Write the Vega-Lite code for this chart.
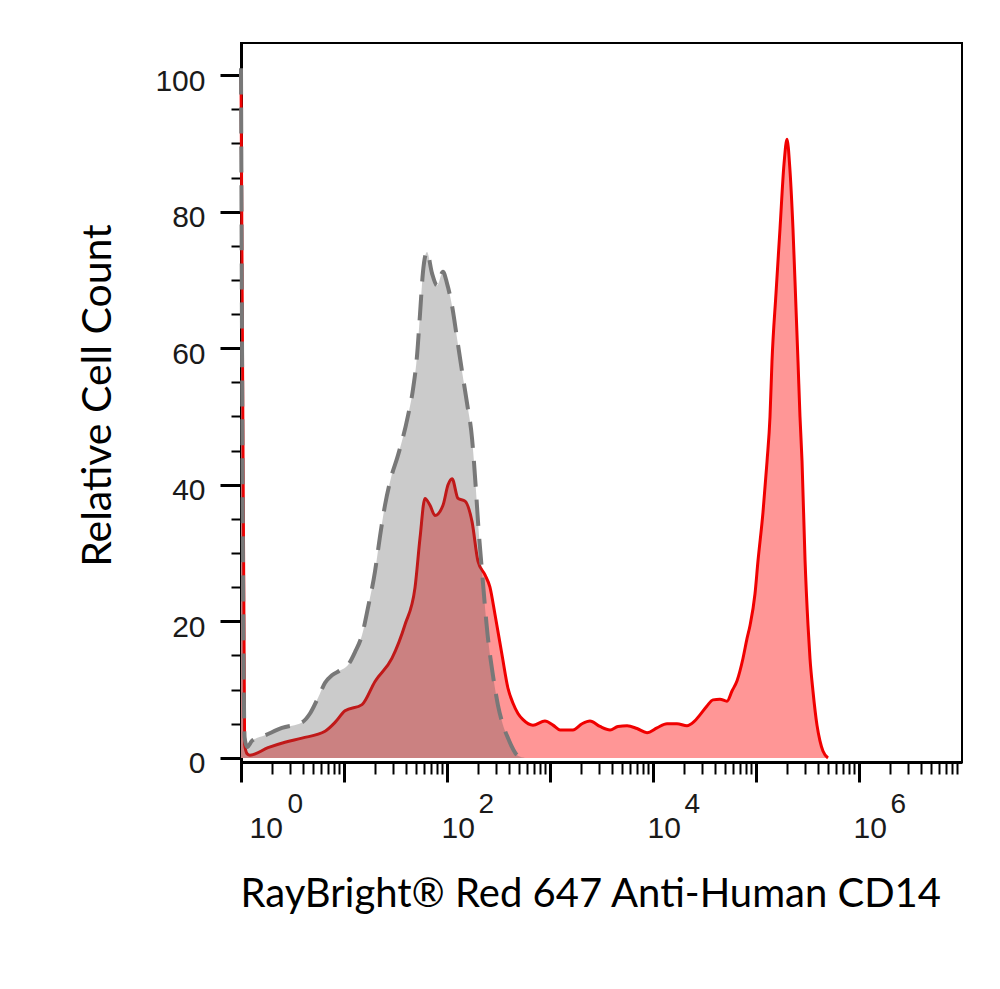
{
  "$schema": "https://vega.github.io/schema/vega-lite/v6.json",
  "autosize": {"type": "none"},
  "padding": {"left": 241, "top": 43, "right": 38, "bottom": 227},
  "width": 721,
  "height": 719,
  "background": "white",
  "config": {
    "view": {"stroke": "black", "strokeWidth": 2},
    "axis": {"grid": false, "domainColor": "black", "tickColor": "black", "labelColor": "#1a1a1a", "labelFont": "Liberation Sans", "titleFont": "Lato", "titleFontWeight": "normal", "titleColor": "black"}
  },
  "datasets": {
    "cd14": [
      {"fluorescence_log10": 0.0, "relative_count": 100.5},
      {"fluorescence_log10": 0.035, "relative_count": 2.0},
      {"fluorescence_log10": 0.06, "relative_count": 0.6},
      {"fluorescence_log10": 0.087, "relative_count": 0.4},
      {"fluorescence_log10": 0.262, "relative_count": 1.5},
      {"fluorescence_log10": 0.427, "relative_count": 2.3},
      {"fluorescence_log10": 0.592, "relative_count": 2.9},
      {"fluorescence_log10": 0.816, "relative_count": 3.9},
      {"fluorescence_log10": 0.913, "relative_count": 5.2},
      {"fluorescence_log10": 1.01, "relative_count": 6.9},
      {"fluorescence_log10": 1.175, "relative_count": 7.8},
      {"fluorescence_log10": 1.301, "relative_count": 11.2},
      {"fluorescence_log10": 1.466, "relative_count": 14.6},
      {"fluorescence_log10": 1.592, "relative_count": 19.5},
      {"fluorescence_log10": 1.689, "relative_count": 24.9},
      {"fluorescence_log10": 1.738, "relative_count": 32.2},
      {"fluorescence_log10": 1.786, "relative_count": 38.0},
      {"fluorescence_log10": 1.835, "relative_count": 37.0},
      {"fluorescence_log10": 1.883, "relative_count": 35.5},
      {"fluorescence_log10": 1.961, "relative_count": 37.0},
      {"fluorescence_log10": 2.01, "relative_count": 40.0},
      {"fluorescence_log10": 2.049, "relative_count": 40.9},
      {"fluorescence_log10": 2.107, "relative_count": 38.0},
      {"fluorescence_log10": 2.175, "relative_count": 37.6},
      {"fluorescence_log10": 2.243, "relative_count": 34.6},
      {"fluorescence_log10": 2.301, "relative_count": 28.8},
      {"fluorescence_log10": 2.369, "relative_count": 26.8},
      {"fluorescence_log10": 2.417, "relative_count": 25.0},
      {"fluorescence_log10": 2.466, "relative_count": 21.0},
      {"fluorescence_log10": 2.534, "relative_count": 15.1},
      {"fluorescence_log10": 2.592, "relative_count": 10.2},
      {"fluorescence_log10": 2.641, "relative_count": 8.0},
      {"fluorescence_log10": 2.689, "relative_count": 6.5},
      {"fluorescence_log10": 2.738, "relative_count": 5.6},
      {"fluorescence_log10": 2.835, "relative_count": 4.8},
      {"fluorescence_log10": 2.951, "relative_count": 5.4},
      {"fluorescence_log10": 3.029, "relative_count": 4.8},
      {"fluorescence_log10": 3.097, "relative_count": 4.1},
      {"fluorescence_log10": 3.223, "relative_count": 4.1},
      {"fluorescence_log10": 3.311, "relative_count": 5.0},
      {"fluorescence_log10": 3.388, "relative_count": 5.4},
      {"fluorescence_log10": 3.485, "relative_count": 4.6},
      {"fluorescence_log10": 3.583, "relative_count": 4.1},
      {"fluorescence_log10": 3.66, "relative_count": 4.6},
      {"fluorescence_log10": 3.748, "relative_count": 4.7},
      {"fluorescence_log10": 3.845, "relative_count": 4.3},
      {"fluorescence_log10": 3.942, "relative_count": 3.7},
      {"fluorescence_log10": 4.039, "relative_count": 4.4},
      {"fluorescence_log10": 4.136, "relative_count": 5.0},
      {"fluorescence_log10": 4.233, "relative_count": 5.0},
      {"fluorescence_log10": 4.33, "relative_count": 4.7},
      {"fluorescence_log10": 4.398, "relative_count": 5.3},
      {"fluorescence_log10": 4.456, "relative_count": 6.3},
      {"fluorescence_log10": 4.524, "relative_count": 7.6},
      {"fluorescence_log10": 4.583, "relative_count": 8.5},
      {"fluorescence_log10": 4.65, "relative_count": 8.6},
      {"fluorescence_log10": 4.718, "relative_count": 8.3},
      {"fluorescence_log10": 4.767, "relative_count": 9.8},
      {"fluorescence_log10": 4.816, "relative_count": 11.3},
      {"fluorescence_log10": 4.874, "relative_count": 14.6},
      {"fluorescence_log10": 4.913, "relative_count": 17.5},
      {"fluorescence_log10": 4.942, "relative_count": 19.4},
      {"fluorescence_log10": 4.99, "relative_count": 24.0},
      {"fluorescence_log10": 5.019, "relative_count": 28.8},
      {"fluorescence_log10": 5.068, "relative_count": 36.0},
      {"fluorescence_log10": 5.107, "relative_count": 43.4},
      {"fluorescence_log10": 5.136, "relative_count": 50.0},
      {"fluorescence_log10": 5.155, "relative_count": 58.0},
      {"fluorescence_log10": 5.194, "relative_count": 68.0},
      {"fluorescence_log10": 5.233, "relative_count": 77.5},
      {"fluorescence_log10": 5.272, "relative_count": 87.0},
      {"fluorescence_log10": 5.301, "relative_count": 90.6},
      {"fluorescence_log10": 5.33, "relative_count": 86.0},
      {"fluorescence_log10": 5.359, "relative_count": 77.5},
      {"fluorescence_log10": 5.388, "relative_count": 66.0},
      {"fluorescence_log10": 5.408, "relative_count": 58.0},
      {"fluorescence_log10": 5.427, "relative_count": 50.0},
      {"fluorescence_log10": 5.447, "relative_count": 43.4},
      {"fluorescence_log10": 5.476, "relative_count": 29.0},
      {"fluorescence_log10": 5.505, "relative_count": 19.4},
      {"fluorescence_log10": 5.524, "relative_count": 14.6},
      {"fluorescence_log10": 5.553, "relative_count": 9.8},
      {"fluorescence_log10": 5.592, "relative_count": 4.8},
      {"fluorescence_log10": 5.621, "relative_count": 2.5},
      {"fluorescence_log10": 5.65, "relative_count": 1.0},
      {"fluorescence_log10": 5.699, "relative_count": 0.0}
    ],
    "isotype": [
      {"fluorescence_log10": 0.0, "relative_count": 101.0},
      {"fluorescence_log10": 0.035, "relative_count": 3.0},
      {"fluorescence_log10": 0.06, "relative_count": 1.6},
      {"fluorescence_log10": 0.107, "relative_count": 2.5},
      {"fluorescence_log10": 0.233, "relative_count": 3.3},
      {"fluorescence_log10": 0.398, "relative_count": 4.4},
      {"fluorescence_log10": 0.592, "relative_count": 5.2},
      {"fluorescence_log10": 0.67, "relative_count": 6.5},
      {"fluorescence_log10": 0.748, "relative_count": 8.8},
      {"fluorescence_log10": 0.816, "relative_count": 11.0},
      {"fluorescence_log10": 0.883, "relative_count": 12.1},
      {"fluorescence_log10": 0.961, "relative_count": 12.8},
      {"fluorescence_log10": 1.039, "relative_count": 13.6},
      {"fluorescence_log10": 1.107, "relative_count": 15.5},
      {"fluorescence_log10": 1.175, "relative_count": 18.0},
      {"fluorescence_log10": 1.233, "relative_count": 22.0},
      {"fluorescence_log10": 1.301, "relative_count": 27.3},
      {"fluorescence_log10": 1.35, "relative_count": 32.5},
      {"fluorescence_log10": 1.398, "relative_count": 37.0},
      {"fluorescence_log10": 1.456, "relative_count": 41.0},
      {"fluorescence_log10": 1.524, "relative_count": 44.3},
      {"fluorescence_log10": 1.621, "relative_count": 50.1},
      {"fluorescence_log10": 1.67, "relative_count": 54.0},
      {"fluorescence_log10": 1.709, "relative_count": 58.9},
      {"fluorescence_log10": 1.738, "relative_count": 65.0},
      {"fluorescence_log10": 1.767, "relative_count": 71.2},
      {"fluorescence_log10": 1.806, "relative_count": 74.1},
      {"fluorescence_log10": 1.854, "relative_count": 71.0},
      {"fluorescence_log10": 1.903, "relative_count": 69.2},
      {"fluorescence_log10": 1.961, "relative_count": 71.2},
      {"fluorescence_log10": 2.0, "relative_count": 69.5},
      {"fluorescence_log10": 2.049, "relative_count": 66.2},
      {"fluorescence_log10": 2.097, "relative_count": 61.5},
      {"fluorescence_log10": 2.146, "relative_count": 56.6},
      {"fluorescence_log10": 2.194, "relative_count": 52.0},
      {"fluorescence_log10": 2.243, "relative_count": 46.8},
      {"fluorescence_log10": 2.282, "relative_count": 39.0},
      {"fluorescence_log10": 2.301, "relative_count": 34.6},
      {"fluorescence_log10": 2.34, "relative_count": 27.3},
      {"fluorescence_log10": 2.398, "relative_count": 17.5},
      {"fluorescence_log10": 2.447, "relative_count": 12.0},
      {"fluorescence_log10": 2.495, "relative_count": 7.7},
      {"fluorescence_log10": 2.544, "relative_count": 4.8},
      {"fluorescence_log10": 2.592, "relative_count": 2.9},
      {"fluorescence_log10": 2.641, "relative_count": 1.3},
      {"fluorescence_log10": 2.689, "relative_count": 0.3},
      {"fluorescence_log10": 2.757, "relative_count": 0.0}
    ]
  },
  "resolve": {"axis": {"x": "independent", "y": "independent"}},
  "layer": [
    {
      "data": {"name": "cd14"},
      "mark": {"type": "area", "interpolate": "monotone", "fill": "#ff9696", "fillOpacity": 1},
      "encoding": {
        "x": {"field": "fluorescence_log10", "type": "quantitative", "scale": {"domain": [0, 7], "nice": false, "zero": false},
          "axis": {"orient": "bottom", "values": [0, 1, 2, 3, 4, 5, 6], "tickSize": 20, "tickWidth": 3, "domainWidth": 3,
            "labelExpr": "(datum.value % 2 === 0) ? '10' : ''", "labelAlign": "left", "labelBaseline": "alphabetic",
            "labelOffset": {"condition": {"test": "datum.value === 0", "value": 8}, "value": -6},
            "labelPadding": 55, "labelFontSize": 30, "labelFlush": false, "labelOverlap": false, "labelBound": false,
            "title": "RayBright® Red 647 Anti-Human CD14", "titleFontSize": 40, "titleAlign": "left", "titleAnchor": "start",
            "titleBaseline": "alphabetic", "titleX": -1, "titleY": 144}},
        "y": {"field": "relative_count", "type": "quantitative", "scale": {"domain": [-0.6, 104.7], "nice": false, "zero": false},
          "axis": {"orient": "left", "values": [0, 20, 40, 60, 80, 100], "tickSize": 21, "tickWidth": 3, "domainWidth": 3,
            "labelFontSize": 30, "labelPadding": 15, "labelBaseline": "middle", "labelOffset": 6, "labelOverlap": false, "labelBound": false, "labelFlush": false,
            "title": "Relative Cell Count", "titleFontSize": 41, "titleAngle": -90, "titleAlign": "center", "titleBaseline": "alphabetic",
            "titleX": -131, "titleY": 352}},
        "y2": {"datum": 0}
      }
    },
    {
      "data": {"name": "cd14"},
      "mark": {"type": "line", "interpolate": "monotone", "color": "#f00000", "strokeWidth": 3},
      "encoding": {
        "x": {"field": "fluorescence_log10", "type": "quantitative",
          "axis": {"orient": "bottom", "values": [0.301, 0.477, 0.602, 0.699, 0.778, 0.845, 0.903, 0.954, 1.301, 1.477, 1.602, 1.699, 1.778, 1.845, 1.903, 1.954, 2.301, 2.477, 2.602, 2.699, 2.778, 2.845, 2.903, 2.954, 3.301, 3.477, 3.602, 3.699, 3.778, 3.845, 3.903, 3.954, 4.301, 4.477, 4.602, 4.699, 4.778, 4.845, 4.903, 4.954, 5.301, 5.477, 5.602, 5.699, 5.778, 5.845, 5.903, 5.954, 6.301, 6.477, 6.602, 6.699, 6.778, 6.845, 6.903, 6.954],
            "tickSize": 12, "tickWidth": 2, "domain": false, "labels": false, "title": null}},
        "y": {"field": "relative_count", "type": "quantitative",
          "axis": {"orient": "left", "values": [5, 10, 15, 25, 30, 35, 45, 50, 55, 65, 70, 75, 85, 90, 95],
            "tickSize": 10, "tickWidth": 2, "domain": false, "labels": false, "title": null}}
      }
    },
    {
      "data": {"name": "isotype"},
      "mark": {"type": "area", "interpolate": "monotone", "fill": "#525252", "fillOpacity": 0.3},
      "encoding": {
        "x": {"field": "fluorescence_log10", "type": "quantitative",
          "axis": {"orient": "bottom", "values": [0, 2, 4, 6], "ticks": false, "tickSize": 0, "domain": false,
            "labelExpr": "'' + datum.value", "labelAlign": "left", "labelBaseline": "alphabetic",
            "labelOffset": {"condition": {"test": "datum.value === 0", "value": 46}, "value": 31},
            "labelPadding": 50, "labelFontSize": 28, "labelFlush": false, "labelOverlap": false, "labelBound": false, "title": null}},
        "y": {"field": "relative_count", "type": "quantitative", "axis": null},
        "y2": {"datum": 0}
      }
    },
    {
      "data": {"name": "isotype"},
      "mark": {"type": "line", "interpolate": "monotone", "color": "#787878", "strokeWidth": 4, "strokeDash": [26, 13]},
      "encoding": {
        "x": {"field": "fluorescence_log10", "type": "quantitative", "axis": null},
        "y": {"field": "relative_count", "type": "quantitative", "axis": null}
      }
    }
  ]
}
